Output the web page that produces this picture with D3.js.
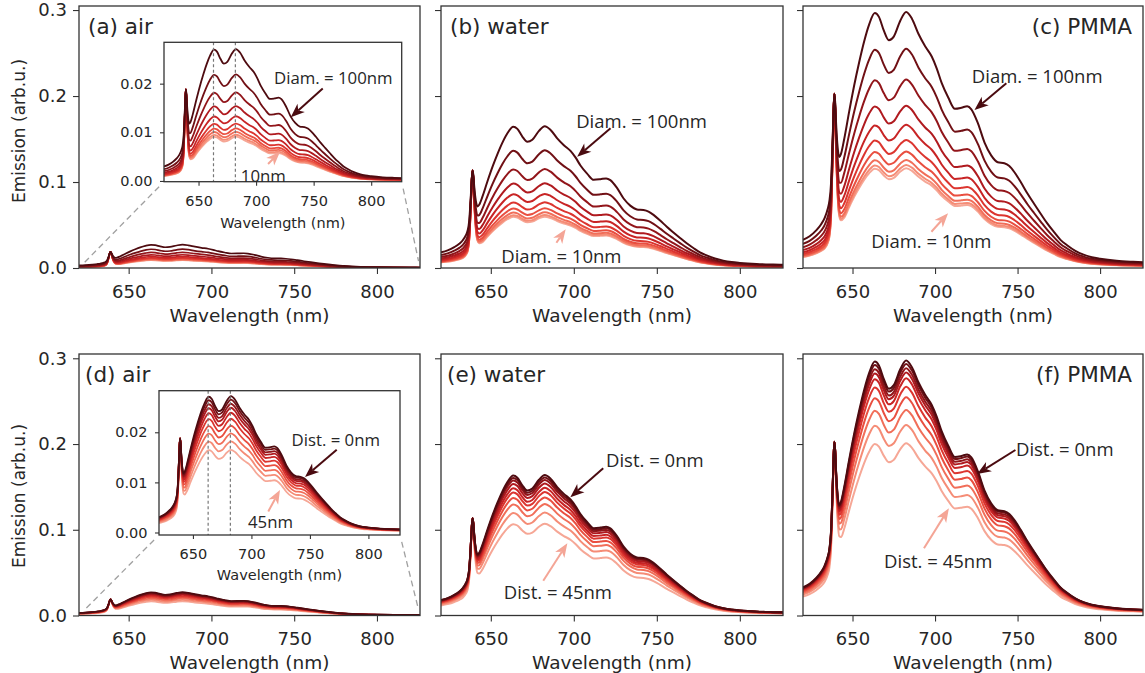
<!DOCTYPE html>
<html lang="en">
<head>
<meta charset="utf-8">
<title>Emission spectra</title>
<script src="https://cdn.jsdelivr.net/npm/d3@7"></script>
<style>
body { margin: 0; background: #fff; }
text { font-family: "DejaVu Sans", sans-serif; fill: #262626; }
.note { font-family: "Open Sans", sans-serif; }
</style>
</head>
<body>
<svg id="fig" width="1145" height="673"></svg>
<script>
// wavelength samples (nm) and broad phonon band, relative to its maximum
const wavelengths = [620, 624, 628, 631, 633, 635, 636, 637, 638, 638.5, 639, 639.5, 640, 641, 642, 643, 645,
  648, 651, 654, 657, 660, 663.5, 666, 669, 672, 675, 679, 682.5, 686, 690, 694, 698, 701, 704, 708,
  712, 716, 719.5, 722, 726, 730, 734, 738, 742, 745, 748, 752, 756, 760, 764, 768, 772, 776, 780,
  785, 790, 795, 800, 810, 820, 827];
const bandShape = [0.110, 0.124, 0.147, 0.171, 0.194, 0.224, 0.244, 0.268, 0.295, 0.308, 0.325, 0.341, 0.358, 0.385, 0.405, 0.435, 0.505,
  0.612, 0.713, 0.803, 0.884, 0.950, 0.996, 0.981, 0.927, 0.890, 0.904, 0.967, 1.000, 0.974, 0.914, 0.866, 0.826, 0.780, 0.723, 0.666,
  0.622, 0.626, 0.632, 0.620, 0.565, 0.490, 0.440, 0.413, 0.409, 0.398, 0.375, 0.335, 0.291, 0.251, 0.212, 0.174, 0.141, 0.110, 0.089,
  0.067, 0.052, 0.042, 0.036, 0.028, 0.024, 0.022];
// zero-phonon line at 639 nm, relative profile on the same samples
const zplShape = [0, 0, 0, 0, 0, 0.02, 0.05, 0.18, 0.6, 0.86, 1, 0.86, 0.6, 0.24, 0.08, 0.03, 0,
  0, 0, 0, 0, 0, 0, 0, 0, 0, 0, 0, 0, 0, 0, 0, 0, 0, 0, 0,
  0, 0, 0, 0, 0, 0, 0, 0, 0, 0, 0, 0, 0, 0, 0, 0, 0, 0, 0,
  0, 0, 0, 0, 0, 0, 0];

const diameters = [10, 20, 30, 40, 50, 60, 70, 80, 90, 100];
const distances = [0, 5, 10, 15, 20, 25, 30, 35, 40, 45];

// band maximum for each curve (arb.u.)
const airDiamPeak   = [0.0091, 0.0095, 0.0101, 0.0108, 0.0118, 0.0133, 0.0154, 0.0182, 0.0219, 0.0271];
const waterDiamPeak = [0.0597, 0.0616, 0.0647, 0.0694, 0.0764, 0.0862, 0.0986, 0.1150, 0.1368, 0.1649];
const pmmaDiamPeak  = [0.1160, 0.1198, 0.1257, 0.1354, 0.1490, 0.1665, 0.1887, 0.2191, 0.2549, 0.2977];
const airDistPeak   = [0.0272, 0.0265, 0.0257, 0.0249, 0.0239, 0.0227, 0.0213, 0.0198, 0.0182, 0.0165];
const waterDistPeak = [0.1638, 0.1610, 0.1580, 0.1540, 0.1490, 0.1440, 0.1377, 0.1300, 0.1200, 0.1070];
const pmmaDistPeak  = [0.2973, 0.2934, 0.2883, 0.2833, 0.2767, 0.2669, 0.2545, 0.2397, 0.2222, 0.2008];
// height of the zero-phonon line (air, water, PMMA)
const zplTop = [0.0188, 0.1134, 0.2027];

const xTicks = [650, 700, 750, 800];
const yTicks = [0, 0.1, 0.2, 0.3];
const insetYTicks = [0, 0.01, 0.02];
const markerLines = [663, 682];

const svg = d3.select("#fig");
const colorRamp = d3.interpolateRgbBasis(["#f6a796", "#f4775c", "#e5392f", "#c21b22", "#8e1419", "#4e0b10"]);
const darkArrow = "#4a0b10", lightArrow = "#f4a596";
const i639 = wavelengths.indexOf(639);

function spectra(peaks, zpl) {
  return peaks.map(p => wavelengths.map((w, k) => ({
    w: w,
    v: p * bandShape[k] + (zpl - p * bandShape[i639]) * zplShape[k]
  })));
}

let clipCount = 0;

function frame(box, xDomain, yDomain, o) {
  const x = d3.scaleLinear().domain(xDomain).range([box.left, box.right]);
  const y = d3.scaleLinear().domain(yDomain).range([box.bottom, box.top]);
  const g = svg.append("g");
  g.append("rect")
    .attr("x", box.left).attr("y", box.top)
    .attr("width", box.right - box.left).attr("height", box.bottom - box.top)
    .attr("fill", "#fff");

  const id = "clip" + (clipCount++);
  g.append("clipPath").attr("id", id).append("rect")
    .attr("x", box.left).attr("y", box.top)
    .attr("width", box.right - box.left).attr("height", box.bottom - box.top);
  const plot = g.append("g").attr("clip-path", "url(#" + id + ")");

  const xa = g.append("g")
    .attr("transform", "translate(0," + box.bottom + ")")
    .call(d3.axisBottom(x).tickValues(xTicks).tickSize(o.tick).tickPadding(o.xpad).tickSizeOuter(0));
  const ya = g.append("g")
    .attr("transform", "translate(" + box.left + ",0)")
    .call(d3.axisLeft(y).tickValues(o.yTicks).tickSize(o.tick).tickPadding(o.ypad).tickSizeOuter(0)
      .tickFormat(o.yLabels ? d3.format(o.yFormat) : () => ""));
  [xa, ya].forEach(a => {
    a.select(".domain").remove();
    a.attr("font-family", "DejaVu Sans").attr("font-size", o.font).attr("color", "#333");
    a.selectAll("line").attr("stroke-width", 1.1);
  });

  return { g: g, plot: plot, x: x, y: y, box: box };
}

function border(p) {
  p.g.append("rect")
    .attr("x", p.box.left).attr("y", p.box.top)
    .attr("width", p.box.right - p.box.left).attr("height", p.box.bottom - p.box.top)
    .attr("fill", "none").attr("stroke", "#333").attr("stroke-width", 1.3);
}

function drawCurves(p, curves, colorOf, width) {
  const line = d3.line().x(d => p.x(d.w)).y(d => p.y(d.v)).curve(d3.curveMonotoneX);
  p.plot.selectAll(null)
    .data(curves)
    .enter().append("path")
    .attr("d", d => line(d.pts))
    .attr("fill", "none")
    .attr("stroke", d => colorOf(d.i))
    .attr("stroke-width", width)
    .attr("stroke-linejoin", "round");
}

function arrow(g, x1, y1, x2, y2, color) {
  const dx = x2 - x1, dy = y2 - y1, len = Math.hypot(dx, dy);
  const ux = dx / len, uy = dy / len, px = -uy, py = ux;
  const L = 14, W = 5.5;
  const bx = x2 - ux * L, by = y2 - uy * L;
  const nx = x2 - ux * L * 0.72, ny = y2 - uy * L * 0.72;
  g.append("line")
    .attr("x1", x1).attr("y1", y1).attr("x2", nx).attr("y2", ny)
    .attr("stroke", color).attr("stroke-width", 2);
  g.append("path")
    .attr("d", "M" + x2 + "," + y2 + "L" + (bx + px * W) + "," + (by + py * W) +
      "L" + nx + "," + ny + "L" + (bx - px * W) + "," + (by - py * W) + "Z")
    .attr("fill", color);
}

function note(p, n, size) {
  p.g.append("text").attr("class", "note")
    .attr("x", p.x(n.tx)).attr("y", p.y(n.tv))
    .attr("text-anchor", "middle").attr("dominant-baseline", "central")
    .style("font-size", size + "px")
    .text(n.text);
  arrow(p.g, p.x(n.from[0]), p.y(n.from[1]), p.x(n.to[0]), p.y(n.to[1]), n.color);
}

const cols = [[79, 420], [441, 783], [803, 1143]];
const rows = [{ top: 6, bottom: 268, dom: [0, 0.3047] }, { top: 354, bottom: 615.5, dom: [0, 0.305] }];

const panels = [
  { row: 0, col: 0, title: "(a) air", peaks: airDiamPeak, zpl: zplTop[0], dark: "last" },
  { row: 0, col: 1, title: "(b) water", peaks: waterDiamPeak, zpl: zplTop[1], dark: "last",
    notes: [
      { text: "Diam. = 100nm", tx: 740.8, tv: 0.1721, from: [722.1, 0.1625], to: [702.0, 0.1294], color: darkArrow },
      { text: "Diam. = 10nm", tx: 692.5, tv: 0.0151, from: [689.5, 0.0294], to: [695.1, 0.045], color: lightArrow }] },
  { row: 0, col: 2, title: "(c) PMMA", right: true, peaks: pmmaDiamPeak, zpl: zplTop[2], dark: "last",
    notes: [
      { text: "Diam. = 100nm", tx: 761.9, tv: 0.2244, from: [743.2, 0.2148], to: [723.9, 0.1838], color: darkArrow },
      { text: "Diam. = 10nm", tx: 697.8, tv: 0.0317, from: [697.8, 0.0422], to: [707.9, 0.0636], color: lightArrow }] },
  { row: 1, col: 0, title: "(d) air", peaks: airDistPeak, zpl: zplTop[0], dark: "first" },
  { row: 1, col: 1, title: "(e) water", peaks: waterDistPeak, zpl: zplTop[1], dark: "first",
    notes: [
      { text: "Dist. = 0nm", tx: 748.8, tv: 0.1822, from: [717.7, 0.1717], to: [697.9, 0.1379], color: darkArrow },
      { text: "Dist. = 45nm", tx: 690.4, tv: 0.0278, from: [681.6, 0.0406], to: [696.1, 0.0842], color: lightArrow }] },
  { row: 1, col: 2, title: "(f) PMMA", right: true, peaks: pmmaDistPeak, zpl: zplTop[2], dark: "first",
    notes: [
      { text: "Dist. = 0nm", tx: 778.6, tv: 0.195, from: [748.7, 0.193], to: [725.5, 0.165], color: darkArrow },
      { text: "Dist. = 45nm", tx: 701.9, tv: 0.0647, from: [693.3, 0.0784], to: [708.4, 0.125], color: lightArrow }] }
];

const insets = [
  { row: 0, box: { left: 164, right: 401.7, top: 42.3, bottom: 181.7 }, xDom: [620, 826.5], yDom: [-0.00015, 0.0285],
    peaks: airDiamPeak, dark: "last", labelY: 222.7,
    notes: [
      { text: "Diam. = 100nm", tx: 767.1, tv: 0.0212, from: [757.9, 0.0190], to: [730.1, 0.0131], color: darkArrow },
      { text: "10nm", tx: 706.3, tv: 0.0012, from: [710.4, 0.0035], to: [720.8, 0.0060], color: lightArrow }] },
  { row: 1, box: { left: 159, right: 400, top: 390.7, bottom: 535 }, xDom: [621, 827], yDom: [-0.0005, 0.0283],
    peaks: airDistPeak, dark: "first", labelY: 575,
    notes: [
      { text: "Dist. = 0nm", tx: 772.1, tv: 0.0186, from: [772.9, 0.0165], to: [745.8, 0.0111], color: darkArrow },
      { text: "45nm", tx: 716.3, tv: 0.0022, from: [714.4, 0.0042], to: [724.4, 0.0085], color: lightArrow }] }
];

function curveSet(peaks, zpl, dark) {
  const pts = spectra(peaks, zpl);
  const n = peaks.length;
  // rank 0 = lightest, drawn first
  let list = pts.map((c, i) => ({ pts: c, i: dark === "last" ? i : n - 1 - i }));
  list.sort((a, b) => a.i - b.i);
  return { list: list, color: i => colorRamp(i / (n - 1)) };
}

panels.forEach(pd => {
  const r = rows[pd.row], c = cols[pd.col];
  const p = frame({ left: c[0], right: c[1], top: r.top, bottom: r.bottom }, [620, 826], r.dom,
    { tick: 6, xpad: 11, ypad: 6, font: 18, yTicks: yTicks, yLabels: pd.col === 0, yFormat: ".1f" });
  const cs = curveSet(pd.peaks, pd.zpl, pd.dark);
  drawCurves(p, cs.list, cs.color, pd.col === 0 ? 1.7 : 2);
  border(p);

  const t = p.g.append("text")
    .attr("y", r.top + 20.5)
    .attr("dominant-baseline", "central")
    .style("font-size", "21.5px")
    .text(pd.title);
  if (pd.right) t.attr("x", c[1] - 11).attr("text-anchor", "end");
  else t.attr("x", c[0] + (pd.row === 0 ? 9 : 6));

  p.g.append("text")
    .attr("x", (c[0] + c[1]) / 2).attr("y", r.bottom + 47)
    .attr("text-anchor", "middle").attr("dominant-baseline", "central")
    .style("font-size", "18.5px")
    .text("Wavelength (nm)");

  (pd.notes || []).forEach(n => note(p, n, 18.5));
  pd.p = p;
});

// y axis labels
[131, 496].forEach(cy => {
  svg.append("text")
    .attr("transform", "translate(19," + cy + ") rotate(-90)")
    .attr("text-anchor", "middle").attr("dominant-baseline", "central")
    .style("font-size", "17px")
    .text("Emission (arb.u.)");
});

// zoom insets for the air panels
insets.forEach(ins => {
  const main = panels[ins.row * 3].p;
  const b = ins.box;
  // connector lines from the inset corners to the zoomed region
  [[b.left, b.bottom, main.x(620), main.y(0)], [b.right, b.bottom, main.x(826), main.y(0)]].forEach(s => {
    const dx = s[2] - s[0], dy = s[3] - s[1], len = Math.hypot(dx, dy);
    const ux = dx / len, uy = dy / len;
    svg.append("line")
      .attr("x1", s[0] + ux * 7).attr("y1", s[1] + uy * 7)
      .attr("x2", s[2] - ux * 7).attr("y2", s[3] - uy * 7)
      .attr("stroke", "#a0a0a0").attr("stroke-width", 1.3).attr("stroke-dasharray", "6,4");
  });

  const p = frame(b, ins.xDom, ins.yDom,
    { tick: 4, xpad: 10, ypad: 7.5, font: 14.5, yTicks: insetYTicks, yLabels: true, yFormat: ".2f" });
  const cs = curveSet(ins.peaks, zplTop[0], ins.dark);
  drawCurves(p, cs.list, cs.color, 1.8);

  p.plot.selectAll(null)
    .data(markerLines)
    .enter().append("line")
    .attr("x1", d => p.x(d)).attr("x2", d => p.x(d))
    .attr("y1", b.top).attr("y2", b.bottom)
    .attr("stroke", "#777").attr("stroke-width", 1.2).attr("stroke-dasharray", "3,2.5");
  border(p);

  p.g.append("text")
    .attr("x", (b.left + b.right) / 2).attr("y", ins.labelY)
    .attr("text-anchor", "middle").attr("dominant-baseline", "central")
    .style("font-size", "14.5px")
    .text("Wavelength (nm)");

  ins.notes.forEach(n => note(p, n, 16.8));
});
</script>
</body>
</html>
